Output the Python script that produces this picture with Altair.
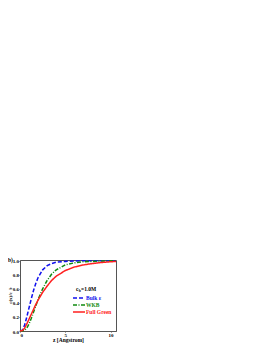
import altair as alt
import pandas as pd

# data
x_vals = [0, 0.25, 0.5, 0.75, 1.0, 1.25, 1.5, 1.75, 2.0, 2.5, 3.0, 3.5, 4.0, 5.0, 6.0, 7.0, 8.0, 9.0, 10.0, 10.6]
bulk = [0, 0.01, 0.08, 0.2, 0.33, 0.46, 0.58, 0.68, 0.76, 0.87, 0.93, 0.96, 0.98, 0.99, 0.995, 1.0, 1.0, 1.0, 1.0, 1.0]
wkb = [0, 0, 0.01, 0.04, 0.1, 0.18, 0.27, 0.36, 0.45, 0.6, 0.72, 0.81, 0.87, 0.94, 0.97, 0.985, 0.99, 0.995, 1.0, 1.0]
full = [0, 0.005, 0.04, 0.1, 0.17, 0.24, 0.31, 0.38, 0.44, 0.55, 0.64, 0.72, 0.78, 0.86, 0.91, 0.94, 0.96, 0.975, 0.985, 0.99]
series_names = ["Bulk ε", "WKB", "Full Green"]
series_colors = ["#1010ee", "#108a10", "#ff2020"]
series_dash = [[4, 2], [4, 1.5, 1, 1.5], [1, 0]]
y_ticks = [0.0, 0.2, 0.4, 0.6, 0.8, 1.0]
x_ticks = [0, 5, 10]

FONT = "Liberation Serif"
W, H = 96, 71

rows = []
for name, ys in zip(series_names, [bulk, wkb, full]):
    for xv, yv in zip(x_vals, ys):
        rows.append({"x": xv, "y": yv, "series": name})
df = pd.DataFrame(rows)

xs = alt.Scale(domain=[0, 10.6], nice=False)
ys_ = alt.Scale(domain=[0, 1.01], nice=False)

layers = []
for i, name in enumerate(series_names):
    layers.append(
        alt.Chart(df[df.series == name]).mark_line(
            color=series_colors[i], strokeDash=series_dash[i], strokeWidth=1.5
        ).encode(
            x=alt.X("x:Q", scale=xs, axis=alt.Axis(
                values=x_ticks, title="z [Angstrom]", format="d", grid=False,
                labelFont=FONT, labelFontWeight="bold", labelFontSize=5, labelPadding=0.5,
                titleFont=FONT, titleFontWeight="bold", titleFontSize=5.5, titlePadding=0,
                tickSize=1, domainColor="#555", tickColor="#555", labelColor="black")),
            y=alt.Y("y:Q", scale=ys_, axis=alt.Axis(
                values=y_ticks, title=None, format=".1f", grid=False,
                labelFont=FONT, labelFontWeight="bold", labelFontSize=5, labelPadding=0.5,
                tickSize=1, domainColor="#555", tickColor="#555", labelColor="black")),
        )
    )

# legend built by hand
leg_y = [38, 45, 52]
for i, name in enumerate(series_names):
    layers.append(
        alt.Chart(pd.DataFrame({"s": [name]})).mark_rule(
            color=series_colors[i], strokeDash=series_dash[i], strokeWidth=1.5
        ).encode(x=alt.value(53), x2=alt.value(65), y=alt.value(leg_y[i]))
    )
    layers.append(
        alt.Chart(pd.DataFrame({"s": [name]})).mark_text(
            color=series_colors[i], font=FONT, fontWeight="bold", fontSize=5.5,
            align="left", baseline="middle"
        ).encode(text="s:N", x=alt.value(66), y=alt.value(leg_y[i]))
    )

def txt(t, x, y, size=5.5, angle=0, align="left", style="normal"):
    return alt.Chart(pd.DataFrame({"t": [t]})).mark_text(
        font=FONT, fontWeight="bold", fontSize=size, color="black",
        align=align, baseline="middle", angle=angle, fontStyle=style
    ).encode(text="t:N", x=alt.value(x), y=alt.value(y))

layers.append(txt("c", 56, 28.5))
layers.append(txt("b", 58.8, 30.5, size=3.8))
layers.append(txt("=1.0M", 61, 28.5))
layers.append(txt("b)", -12, 0, size=5.5))
layers.append(txt("c(x)/c", -10, 38, size=5, angle=270, align="center"))
layers.append(txt("b", -8.7, 28.5, size=3.5, angle=270, align="center"))

chart = alt.layer(*layers).properties(
    width=W, height=H,
    autosize=alt.AutoSizeParams(type="none"),
    padding={"left": 12, "top": 252, "right": 20, "bottom": 12},
).configure_view(stroke="#555", strokeWidth=1)

chart.save("out.html", embed_options={"renderer": "svg", "actions": False})
